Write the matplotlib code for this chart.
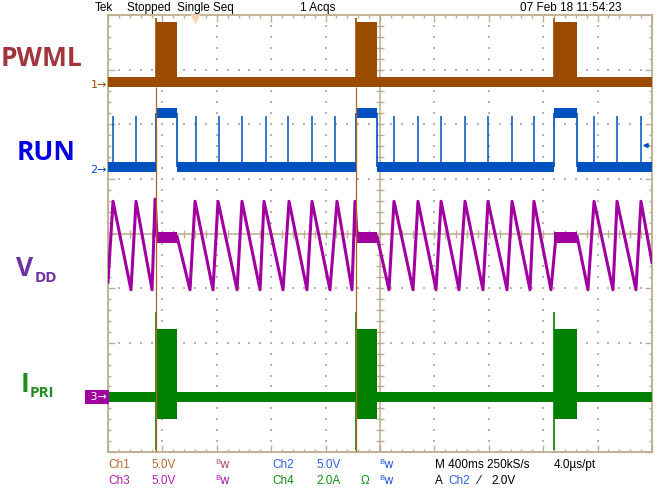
import numpy as np
import matplotlib
matplotlib.use("Agg")
import matplotlib.pyplot as plt

# ==============================
# DATA (time in s, 400 ms/div, 10 div)
# ==============================
pwml_on = [0.353, 1.824, 3.279]
pwml_off = [0.507, 1.978, 3.449]
pwml_high_v = 5.5
pwml_spike_v = 5.9

run_high_v = 5.0
run_spike_v = 4.7
run_spikes_t = [0.037, 0.206, 0.647, 0.816, 0.985, 1.162, 1.324, 1.500, 1.669,
                2.103, 2.279, 2.449, 2.625, 2.794, 2.971, 3.132,
                3.574, 3.743, 3.919]

vdd_t = [0.000, 0.037, 0.169, 0.206, 0.324, 0.346, 0.360, 0.507, 0.603, 0.640,
         0.772, 0.809, 0.949, 0.985, 1.118, 1.147, 1.287, 1.331, 1.463, 1.500,
         1.632, 1.684, 1.794, 1.816, 1.831, 1.978, 2.066, 2.103, 2.243, 2.279,
         2.412, 2.449, 2.581, 2.625, 2.757, 2.794, 2.934, 2.971, 3.103, 3.132,
         3.257, 3.294, 3.449, 3.529, 3.574, 3.713, 3.743, 3.882, 3.919, 4.000]
vdd_v = [10.5, 17.9, 9.8, 17.9, 9.8, 18.1, 14.7, 14.7, 9.8, 17.9,
         9.8, 17.9, 9.8, 17.9, 9.8, 17.9, 9.8, 17.9, 9.8, 17.9,
         9.8, 17.9, 9.8, 17.9, 14.7, 14.7, 9.8, 17.9, 9.8, 17.9,
         9.8, 17.9, 9.8, 17.9, 9.8, 17.9, 9.8, 17.9, 9.8, 17.9,
         9.8, 14.7, 14.7, 9.8, 17.9, 9.8, 17.9, 9.8, 17.9, 12.3]
vdd_flat_lo, vdd_flat_hi = 14.1, 15.1

ipri_top, ipri_bot = 2.5, -0.8
ipri_spike_top, ipri_spike_bot = 3.1, -1.95

# channel position (div from bottom) and scale per div
ch1_pos, ch1_scale = 6.77, 5.0
ch2_pos, ch2_scale = 5.21, 5.0
ch3_pos, ch3_scale = 1.01, 5.0
ch4_pos, ch4_scale = 1.01, 2.0
trig_t = 0.64
trig_level = 2.0

C1 = "#9b4b00"
C2 = "#0052c0"
C3 = "#a000a0"
C4 = "#008000"
GRAT = "#bcae8c"

W, H = 656, 495
fig = plt.figure(figsize=(W / 100, H / 100), dpi=100)
fig.patch.set_facecolor("white")
ax = fig.add_axes([108 / W, (H - 452) / H, 544 / W, 437 / H])
ax.set_xlim(0, 4.0)
ax.set_ylim(0, 8)


def dv(v, pos, scale):
    return pos + np.asarray(v, dtype=float) / scale


def low_intervals(on, off, t0=0.0, t1=4.0):
    starts = [t0] + list(off)
    ends = list(on) + [t1]
    return list(zip(starts, ends))


# ==============================
# GRATICULE
# ==============================
for k in range(1, 10):
    if k == 5:
        continue
    ys = np.arange(1, 40) * 0.2
    ax.scatter(np.full(len(ys), k * 0.4), ys, s=1.2, marker="s", color="#b4b4b4", lw=0, zorder=1)
for j in range(1, 8):
    if j == 4:
        continue
    xs = np.arange(1, 50) * 0.08
    ax.scatter(xs, np.full(len(xs), j), s=1.2, marker="s", color="#b4b4b4", lw=0, zorder=1)

ax.axvline(2.0, color=GRAT, lw=1.1, zorder=1)
ax.axhline(4.0, color=GRAT, lw=1.1, zorder=1)
xs = np.arange(1, 50) * 0.08
ax.plot(xs, np.full(len(xs), 4.0), ls="none", marker="|", ms=6, mew=1, color=GRAT, zorder=1)
ys = np.arange(1, 40) * 0.2
ax.plot(np.full(len(ys), 2.0), ys, ls="none", marker="_", ms=6, mew=1, color=GRAT, zorder=1)

for s in ax.spines.values():
    s.set_color(GRAT)
    s.set_linewidth(1.3)
ax.set_xticks(np.arange(0, 4.01, 0.4))
ax.set_xticks(np.arange(0, 4.01, 0.08), minor=True)
ax.set_yticks(np.arange(0, 8.01, 1))
ax.set_yticks(np.arange(0, 8.01, 0.2), minor=True)
ax.tick_params(which="both", direction="in", top=True, right=True, color=GRAT,
               labelbottom=False, labelleft=False, width=1)
ax.tick_params(which="major", length=5)
ax.tick_params(which="minor", length=2.5)

# ==============================
# CH1 PWML
# ==============================
band1 = 0.46
for a, b in low_intervals(pwml_on, pwml_off):
    ax.fill_between([a, b], dv(-band1, ch1_pos, ch1_scale), dv(band1, ch1_pos, ch1_scale),
                    color=C1, lw=0, zorder=3)
for a, b in zip(pwml_on, pwml_off):
    ax.fill_between([a, b], dv(-band1, ch1_pos, ch1_scale), dv(pwml_high_v, ch1_pos, ch1_scale),
                    color=C1, lw=0, zorder=3)
    ax.vlines(a, dv(0, ch1_pos, ch1_scale), dv(pwml_spike_v, ch1_pos, ch1_scale), color=C1, lw=1.2, zorder=3)
ax.vlines(pwml_on[:2], 0, dv(-band1, ch1_pos, ch1_scale), color="#b0621a", lw=0.9, zorder=6)

# ==============================
# CH2 RUN
# ==============================
band2 = 0.46
for a, b in low_intervals(pwml_on, pwml_off):
    ax.fill_between([a, b], dv(-band2, ch2_pos, ch2_scale), dv(band2, ch2_pos, ch2_scale),
                    color=C2, lw=0, zorder=3)
for a, b in zip(pwml_on, pwml_off):
    ax.fill_between([a, b], dv(run_high_v - band2, ch2_pos, ch2_scale),
                    dv(run_high_v + band2, ch2_pos, ch2_scale), color=C2, lw=0, zorder=3)
    ax.vlines([a, b], dv(0, ch2_pos, ch2_scale), dv(run_high_v, ch2_pos, ch2_scale), color=C2, lw=1.2, zorder=3)
ax.vlines(run_spikes_t, dv(0, ch2_pos, ch2_scale), dv(run_spike_v, ch2_pos, ch2_scale),
          color=C2, lw=1.1, zorder=3)

# ==============================
# CH3 VDD
# ==============================
ax.plot(vdd_t, dv(vdd_v, ch3_pos, ch3_scale), color=C3, lw=2.2, zorder=4)
for a, b in zip(pwml_on, pwml_off):
    ax.fill_between([a, b], dv(vdd_flat_lo, ch3_pos, ch3_scale), dv(vdd_flat_hi, ch3_pos, ch3_scale),
                    color=C3, lw=0, zorder=4)

# ==============================
# CH4 IPRI
# ==============================
band4 = 0.18
for a, b in low_intervals(pwml_on, pwml_off):
    ax.fill_between([a, b], dv(-band4, ch4_pos, ch4_scale), dv(band4, ch4_pos, ch4_scale),
                    color=C4, lw=0, zorder=5)
for a, b in zip(pwml_on, pwml_off):
    ax.fill_between([a, b], dv(ipri_bot, ch4_pos, ch4_scale), dv(ipri_top, ch4_pos, ch4_scale),
                    color=C4, lw=0, zorder=5)
    ax.vlines(a, dv(ipri_spike_bot, ch4_pos, ch4_scale), dv(ipri_spike_top, ch4_pos, ch4_scale),
              color=C4, lw=1.2, zorder=5)

# trigger markers
ax.plot(trig_t, 7.93, marker="v", ms=7, color="#ffd2b4", mec="none", clip_on=False, zorder=7)
ax.annotate("", xy=(3.91, dv(trig_level, ch2_pos, ch2_scale)),
            xytext=(4.0, dv(trig_level, ch2_pos, ch2_scale)),
            arrowprops=dict(arrowstyle="-|>", color=C2, lw=1, mutation_scale=7), zorder=7)

# ==============================
# TEXT
# ==============================
scope = ["Liberation Sans", "DejaVu Sans"]
fs = 8.5


def ftext(x, y, s, **kw):
    fig.text(x / W, 1 - y / H, s, va="center", **kw)


ftext(95, 8, "Tek", family=scope, fontsize=fs)
ftext(127, 8, "Stopped  Single Seq", family=scope, fontsize=fs)
ftext(300, 8, "1 Acqs", family=scope, fontsize=fs)
ftext(520, 8, "07 Feb 18 11:54:23", family=scope, fontsize=fs)

r1, r2 = 465, 481
ftext(108, r1, "Ch1", family=scope, fontsize=fs, color="#b86a30")
ftext(151, r1, "5.0V", family=scope, fontsize=fs, color="#b86a30")
ftext(215, r1, "ᴮw", family=["DejaVu Sans"], fontsize=fs, color="#b05080")
ftext(272, r1, "Ch2", family=scope, fontsize=fs, color="#2a62e0")
ftext(316, r1, "5.0V", family=scope, fontsize=fs, color="#2a62e0")
ftext(379, r1, "ᴮw", family=["DejaVu Sans"], fontsize=fs, color="#2a62e0")
ftext(435, r1, "M 400ms 250kS/s", family=scope, fontsize=fs)
ftext(554, r1, "4.0µs/pt", family=scope, fontsize=fs)

ftext(108, r2, "Ch3", family=scope, fontsize=fs, color="#b020b0")
ftext(151, r2, "5.0V", family=scope, fontsize=fs, color="#b020b0")
ftext(215, r2, "ᴮw", family=["DejaVu Sans"], fontsize=fs, color="#b020b0")
ftext(272, r2, "Ch4", family=scope, fontsize=fs, color="#109010")
ftext(316, r2, "2.0A", family=scope, fontsize=fs, color="#109010")
ftext(361, r2, "Ω", family=scope, fontsize=fs, color="#109010")
ftext(379, r2, "ᴮw", family=["DejaVu Sans"], fontsize=fs, color="#2a62e0")
ftext(435, r2, "A", family=scope, fontsize=fs)
ftext(448, r2, "Ch2", family=scope, fontsize=fs, color="#2a62e0")
ftext(477, r2, "⁄", family=["DejaVu Sans"], fontsize=fs)
ftext(491, r2, "2.0V", family=scope, fontsize=fs)

# channel markers
ftext(107, 85, "1→", family=["DejaVu Sans"], fontsize=8, color=C1, ha="right")
ftext(107, 170, "2→", family=["DejaVu Sans"], fontsize=8, color=C2, ha="right")
ftext(107, 397, " 3→", family=["DejaVu Sans"], fontsize=8, color="white", ha="right",
      bbox=dict(boxstyle="square,pad=0.15", fc=C3, ec="none"))

# big labels
big = ["Open Sans", "DejaVu Sans"]
ftext(1, 58, "PWML", family=big, fontsize=19, fontweight="bold", color="#a0353c")
ftext(17, 153, "RUN", family=big, fontsize=19, fontweight="bold", color="#0000e0")
ftext(16, 268, "V", family=big, fontsize=19, fontweight="bold", color="#7030a0")
ftext(35, 278, "DD", family=big, fontsize=11, fontweight="bold", color="#7030a0")
ftext(21, 385, "I", family=big, fontsize=19, fontweight="bold", color="#1e8c1e")
ftext(30, 393, "PRI", family=big, fontsize=11, fontweight="bold", color="#1e8c1e")

fig.savefig("out.png", dpi=100)
